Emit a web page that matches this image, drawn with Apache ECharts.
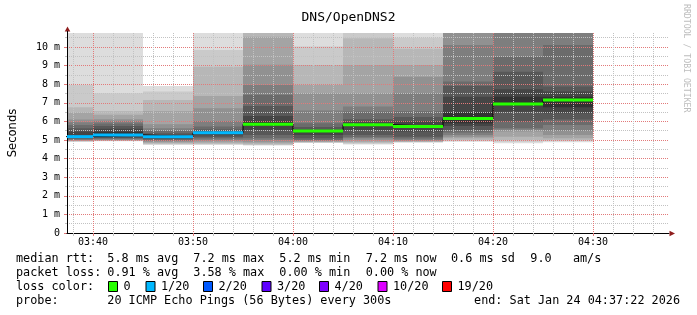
<!DOCTYPE html>
<html><head><meta charset="utf-8">
<script src="https://cdn.jsdelivr.net/npm/echarts@6/dist/echarts.min.js"></script>
<style>html,body{margin:0;padding:0;background:#fff}#c{width:697px;height:315px}</style>
</head><body><div id="c"></div>
<script>
// ---------- data ----------
const chartTitle = 'DNS/OpenDNS2';
const yAxisName = 'Seconds';
// time is expressed in minutes after 03:00
const xMin = 37.4;   // 03:37:24
const xMax = 97.6;
const yMax = 10.75;  // ms
const blockStarts = [35, 40, 45, 50, 55, 60, 65, 70, 75, 80, 85];
const blockLength = 5;
const medians = [5.18, 5.27, 5.18, 5.39, 5.84, 5.48, 5.82, 5.72, 6.15, 6.94, 7.15];
const lossIdx = [1, 1, 1, 1, 0, 0, 0, 0, 0, 0, 0];
// 20 ping rtts (ms) per 5-minute step, sorted
const pings1  = [4.90,4.92,4.94,4.96,4.98,5.00,5.04,5.08,5.12,5.15, 5.27,5.45,5.63,5.80,5.95,6.10,6.47,6.76,7.96,12.0];
const pings2  = [4.93,4.95,4.96,4.98,5.00,5.03,5.06,5.10,5.15,5.20, 5.42,5.60,5.75,5.89,6.00,6.11,6.35,6.56,7.51,12.0];
const pings3  = [4.73,4.77,4.80,4.85,4.90,4.95,5.00,5.04,5.08,5.12, 5.23,5.28,5.36,5.50,5.63,5.85,6.56,7.15,7.60,7.90];
const pings4  = [4.73,4.77,4.80,4.86,4.93,5.00,5.08,5.15,5.25,5.33, 5.43,5.48,5.56,5.72,6.02,6.70,7.37,8.94,9.84,12.0];
const pings5  = [4.70,4.73,4.76,4.82,4.90,5.00,5.09,5.27,5.54,5.78, 5.98,6.29,6.83,7.42,7.96,9.04,10.55,11.0,11.5,12.0];
const pings6  = [4.84,4.86,4.88,4.90,4.93,4.97,5.00,5.09,5.27,5.42, 5.52,5.56,5.70,5.90,6.58,7.51,7.96,9.03,10.02,12.0];
const pings7  = [4.76,4.80,4.85,4.91,5.00,5.09,5.15,5.27,5.54,5.78, 5.86,5.95,6.11,6.53,6.80,7.51,9.03,10.47,11.0,12.0];
const pings8  = [4.86,4.88,4.90,4.92,4.95,5.00,5.08,5.18,5.45,5.68, 5.76,6.00,6.23,6.55,7.51,8.40,9.03,9.90,10.50,12.0];
const pings9  = [4.90,4.95,5.00,5.09,5.18,5.27,5.40,5.54,5.75,5.90, 6.50,7.33,7.90,8.14,10.11,11.2,11.4,11.6,11.8,12.0];
const pings10 = [4.82,4.90,5.00,5.18,5.45,5.55,5.63,5.98,6.52,6.85, 7.33,7.72,8.67,9.48,11.0,11.2,11.4,11.6,11.8,12.0];
const pings11 = [4.88,4.95,5.00,5.09,5.27,5.50,5.81,6.10,6.43,6.76, 7.33,7.60,7.87,10.11,11.0,11.2,11.4,11.6,11.8,12.0];
const pings = [pings1,pings2,pings3,pings4,pings5,pings6,pings7,pings8,pings9,pings10,pings11];

const lossLabels = ['0', '1/20', '2/20', '3/20', '4/20', '10/20', '19/20'];
const lossColors = ['#26ff00', '#00b8ff', '#0059ff', '#5e00ff', '#7e00ff', '#dd00ff', '#ff0000'];

const xLabelValues = [40, 50, 60, 70, 80, 90];
const xTickLabels = ['03:40', '03:50', '04:00', '04:10', '04:20', '04:30'];
const xMinorValues = [38,42,44,46,48,52,54,56,58,62,64,66,68,72,74,76,78,82,84,86,88,92,94,96];
const yLabelValues = [0, 1, 2, 3, 4, 5, 6, 7, 8, 9, 10];
const yTickLabels = ['0', '1 m', '2 m', '3 m', '4 m', '5 m', '6 m', '7 m', '8 m', '9 m', '10 m'];
const yMinorValues = [0.5,1.5,2.5,3.5,4.5,5.5,6.5,7.5,8.5,9.5,10.5];

const rttLabel = 'median rtt:';
const rttStats = ['5.8 ms avg', '7.2 ms max', '5.2 ms min', '7.2 ms now', '0.6 ms sd', '9.0   am/s'];
const lossLabel = 'packet loss:';
const lossStats = ['0.91 % avg', '3.58 % max', '0.00 % min', '0.00 % now'];
const lossColorLabel = 'loss color:';
const probeLabel = 'probe:';
const probeText = '20 ICMP Echo Pings (56 Bytes) every 300s';
const endText = 'end: Sat Jan 24 04:37:22 2026';
const watermark = 'RRDTOOL / TOBI OETIKER';

// ---------- layout / style ----------
const MONO = 'DejaVu Sans Mono';
const MINOR = '#c2c2c2';
const MAJOR = '#e27a7a';
const statX = [107.3, 193.3, 279.3, 365.7, 451, 530.3];
const swatchX = [108.5, 146, 203.5, 262, 319.5, 378, 442.5];
const lineY = [259.3, 273.3, 287, 301.3];
const LEG_FS = 11.8;

const chart = echarts.init(document.getElementById('c'), null, {renderer: 'canvas'});

function clip(r, cs) {
  return echarts.graphic.clipRectByRect(r, {x: cs.x, y: cs.y, width: cs.width, height: cs.height});
}

function renderSmoke(params, api) {
  const i = params.dataIndex;
  const x0 = api.value(0), x1 = api.value(1);
  const p = pings[i].slice().sort((a, b) => a - b);
  const n = p.length, half = n / 2;
  const children = [];
  for (let b = 1; b <= half; b++) {
    const lo = p[b - 1], hi = p[n - b];
    const g = Math.floor(190 / half * (half - b)) + 50;
    const tl = api.coord([x0, Math.min(hi, yMax)]);
    const br = api.coord([x1, Math.min(lo, yMax)]);
    const r = clip({x: tl[0], y: tl[1], width: br[0] - tl[0], height: br[1] - tl[1]}, params.coordSys);
    if (r) children.push({type: 'rect', shape: r, style: {fill: 'rgb(' + g + ',' + g + ',' + g + ')'}});
  }
  return {type: 'group', children: children};
}

function renderMedian(params, api) {
  const i = params.dataIndex;
  const a = api.coord([api.value(0), api.value(2)]);
  const b = api.coord([api.value(1), api.value(2)]);
  const r = clip({x: a[0], y: a[1] - 1.5, width: b[0] - a[0], height: 3}, params.coordSys);
  if (!r) return null;
  return {type: 'rect', shape: r, style: {fill: lossColors[lossIdx[i]]}};
}

const blockData = blockStarts.map((s, i) => [s, s + blockLength, medians[i]]);
const stepData = blockStarts.map((s, i) => [s, medians[i]]);
stepData.push([blockStarts[blockStarts.length - 1] + blockLength, medians[medians.length - 1]]);

const graphics = [];
function txt(x, y, s, align) {
  graphics.push({type: 'text', x: x, y: y, silent: true, z: 10,
    style: {text: s, fontFamily: MONO, fontSize: LEG_FS, fill: '#000', align: align || 'left', verticalAlign: 'middle'}});
}
txt(16, lineY[0], rttLabel);
rttStats.forEach((s, i) => txt(statX[i], lineY[0], s));
txt(16, lineY[1], lossLabel);
lossStats.forEach((s, i) => txt(statX[i], lineY[1], s));
txt(16, lineY[2], lossColorLabel);
lossLabels.forEach((s, i) => {
  graphics.push({type: 'rect', silent: true, z: 10,
    shape: {x: swatchX[i], y: lineY[2] - 5.5, width: 9, height: 10},
    style: {fill: lossColors[i], stroke: '#000', lineWidth: 1}});
  txt(swatchX[i] + 15, lineY[2], s);
});
txt(16, lineY[3], probeLabel);
txt(statX[0], lineY[3], probeText);
txt(680, lineY[3], endText, 'right');
graphics.push({type: 'text', x: 686.5, y: 4, rotation: -Math.PI / 2, silent: true,
  style: {text: watermark, fontFamily: MONO, fontSize: 8.2, fill: '#bdbdbd', align: 'left', verticalAlign: 'middle'}});
// axis arrows
graphics.push({type: 'polygon', silent: true, z: 10, shape: {points: [[67.5, 26.5], [64.7, 31.5], [70.3, 31.5]]}, style: {fill: '#8f1d1d'}});
graphics.push({type: 'polygon', silent: true, z: 10, shape: {points: [[675, 233.5], [669.5, 230.7], [669.5, 236.3]]}, style: {fill: '#8f1d1d'}});
graphics.push({type: 'line', silent: true, z: 10, shape: {x1: 67.5, y1: 31, x2: 67.5, y2: 33}, style: {stroke: '#000', lineWidth: 1}});

const option = {
  animation: false,
  backgroundColor: '#fff',
  textStyle: {fontFamily: MONO},
  title: {text: chartTitle, left: 'center', top: 6,
    textStyle: {fontFamily: MONO, fontSize: 13, fontWeight: 'normal', color: '#000'}},
  grid: {left: 67, top: 33, width: 602, height: 200, containLabel: false, outerBoundsMode: 'none'},
  xAxis: [
    {type: 'value', min: xMin, max: xMax, position: 'bottom', z: 5,
      axisLine: {show: true, onZero: false, lineStyle: {color: '#000', width: 1}},
      axisTick: {show: true, customValues: xMinorValues, length: 3, lineStyle: {color: MINOR}},
      axisLabel: {show: false},
      splitLine: {show: true, lineStyle: {color: MINOR, width: 1, type: [1, 1]}}},
    {type: 'value', min: xMin, max: xMax, position: 'bottom', z: 6,
      axisLine: {show: false, onZero: false},
      axisTick: {show: true, customValues: xLabelValues, length: 3, lineStyle: {color: MAJOR}},
      axisLabel: {show: true, customValues: xLabelValues, margin: 4, fontFamily: MONO, fontSize: 10, color: '#000',
        formatter: v => xTickLabels[xLabelValues.indexOf(v)]},
      splitLine: {show: true, lineStyle: {color: MAJOR, width: 1, type: [1, 1]}}}
  ],
  yAxis: [
    {type: 'value', min: 0, max: yMax, position: 'left', z: 5,
      name: yAxisName, nameLocation: 'middle', nameGap: 48, nameRotate: 90,
      nameTextStyle: {fontFamily: 'DejaVu Sans', fontSize: 11.6, color: '#000'},
      axisLine: {show: true, onZero: false, lineStyle: {color: '#000', width: 1}},
      axisTick: {show: true, customValues: yMinorValues, length: 2, lineStyle: {color: MINOR}},
      axisLabel: {show: false},
      splitLine: {show: true, lineStyle: {color: MINOR, width: 1, type: [1, 1]}}},
    {type: 'value', min: 0, max: yMax, position: 'left', z: 4,
      axisLine: {show: false, onZero: false},
      axisTick: {show: true, customValues: yLabelValues, length: 3, lineStyle: {color: MAJOR}},
      axisLabel: {show: true, customValues: yLabelValues, margin: 7, fontFamily: MONO, fontSize: 10, color: '#000',
        formatter: v => yTickLabels[yLabelValues.indexOf(v)]},
      splitLine: {show: true, lineStyle: {color: MAJOR, width: 1, type: [1, 1]}}}
  ],
  series: [
    {type: 'custom', name: 'smoke', z: 1, silent: true, xAxisIndex: 0, yAxisIndex: 0,
      renderItem: renderSmoke, encode: {x: [0, 1], y: 2}, data: blockData},
    {type: 'line', name: 'median-step', z: 8, silent: true, xAxisIndex: 0, yAxisIndex: 0,
      step: 'end', symbol: 'none', lineStyle: {color: '#000', width: 1}, data: stepData},
    {type: 'custom', name: 'median', z: 9, silent: true, xAxisIndex: 0, yAxisIndex: 0,
      renderItem: renderMedian, encode: {x: [0, 1], y: 2}, data: blockData}
  ],
  graphic: graphics
};
chart.setOption(option);
</script>
</body></html>
